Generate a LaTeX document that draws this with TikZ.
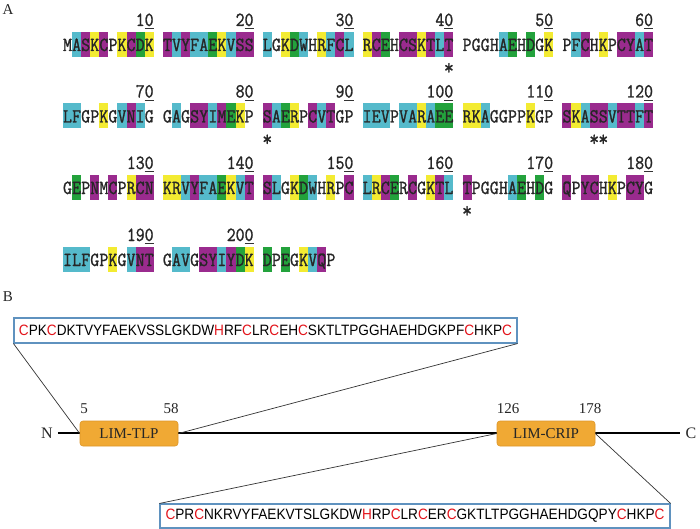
\documentclass[tikz,border=0pt]{standalone}
\usepackage{fontspec}
\setmainfont{Liberation Serif}
\newfontfamily\seqfont[FakeStretch=0.865,FakeBold=1.2]{Latin Modern Mono}
\newfontfamily\bseqfont{Liberation Sans}
\definecolor{colc}{HTML}{55BACB}
\definecolor{colm}{HTML}{9A2B8E}
\definecolor{coly}{HTML}{F3EB32}
\definecolor{colg}{HTML}{23A23C}
\definecolor{coln}{HTML}{FFFFFF}
\definecolor{seqred}{HTML}{E3141B}
\definecolor{boxblue}{HTML}{5F92BF}
\definecolor{limorange}{HTML}{F0A934}
\definecolor{limedge}{HTML}{DD9628}
\newcommand\rc[1]{\textcolor{seqred}{#1}}
\tikzset{
  seqchar/.style={inner sep=0pt, anchor=base, font=\seqfont\fontsize{20}{20}\selectfont, text=black!85},
  seqnum/.style={inner sep=0pt, anchor=base east, font=\seqfont\fontsize{20}{20}\selectfont, text=black!85},
  numline/.style={line width=0.8pt, black!80},
  starmark/.style={inner sep=0pt, anchor=base, font=\seqfont\fontsize{22}{22}\selectfont, text=black!85},
  seqbox/.style={draw=boxblue, line width=1.1pt, inner sep=0pt, fill=white},
  limbox/.style={fill=limorange, draw=limedge, line width=0.6pt, rounded corners=3pt, minimum width=98pt, minimum height=25pt, inner sep=0pt, font=\rmfamily\fontsize{15}{15}\selectfont, text=black!85},
  plainlabel/.style={inner sep=0pt, font=\rmfamily\fontsize{15}{15}\selectfont, text=black!85},
  link/.style={line width=0.7pt, black!80},
  axisline/.style={line width=2.8pt, black}
}
% #1 row id, #2 block index, #3 y centre, #4 list char/colour
\newcommand\seqblock[4]{%
  \pgfmathsetmacro\bx{63+#2*11*9.08}%
  \foreach \ch/\cl [count=\i from 0] in {#4} {
    \pgfmathsetmacro\cx{\bx+\i*9.08}
    \fill[col\cl] (\cx,#3-12.5) rectangle ++(9.08,25);
  }
  \foreach \ch/\cl [count=\i from 0] in {#4} {
    \pgfmathsetmacro\cx{\bx+\i*9.08+4.54}
    \node[seqchar] (s#1b#2c\i) at (\cx,#3+6.5) {\ch};
  }
}
% #1 row id, #2 block index, #3 y centre of row, #4 number
\newcommand\seqnumber[4]{%
  \pgfmathsetmacro\bx{63+#2*11*9.08}%
  \node[seqnum] (n#1b#2) at (\bx+90.8,#3-18.5) {#4};
  \draw[numline] (\bx+81.7,#3-16) -- (\bx+90.8,#3-16);
}
\begin{document}
\begin{tikzpicture}[x=1pt,y=-1pt]
\useasboundingbox[fill=white] (0,0) rectangle (700,529);
\node[plainlabel] (labA) at (8,10) {A};
% ---- row 1
\seqblock{1}{0}{44.5}{M/n,A/c,S/m,K/y,C/m,P/n,K/y,C/m,D/g,K/y}
\seqblock{1}{1}{44.5}{T/m,V/c,Y/m,F/c,A/c,E/g,K/y,V/c,S/m,S/m}
\seqblock{1}{2}{44.5}{L/c,G/n,K/y,D/g,W/c,H/n,R/y,F/c,C/m,L/c}
\seqblock{1}{3}{44.5}{R/y,C/m,E/g,H/n,C/m,S/m,K/y,T/m,L/c,T/m}
\seqblock{1}{4}{44.5}{P/n,G/n,G/n,H/n,A/c,E/g,H/n,D/g,G/n,K/y}
\seqblock{1}{5}{44.5}{P/n,F/c,C/m,H/n,K/y,P/n,C/m,Y/m,A/c,T/m}
\seqnumber{1}{0}{44.5}{10}\seqnumber{1}{1}{44.5}{20}\seqnumber{1}{2}{44.5}{30}
\seqnumber{1}{3}{44.5}{40}\seqnumber{1}{4}{44.5}{50}\seqnumber{1}{5}{44.5}{60}
% ---- row 2
\seqblock{2}{0}{116}{L/c,F/c,G/n,P/n,K/y,G/n,V/c,N/m,I/c,G/n}
\seqblock{2}{1}{116}{G/n,A/c,G/n,S/m,Y/m,I/c,M/m,E/g,K/y,P/n}
\seqblock{2}{2}{116}{S/m,A/c,E/g,R/y,P/n,C/m,V/c,T/m,G/n,P/n}
\seqblock{2}{3}{116}{I/c,E/c,V/c,P/n,V/c,A/c,R/y,A/c,E/g,E/g}
\seqblock{2}{4}{116}{R/y,K/y,A/c,G/n,G/n,P/n,P/n,K/y,G/n,P/n}
\seqblock{2}{5}{116}{S/m,K/y,A/c,S/m,S/m,V/c,T/m,T/m,F/c,T/m}
\seqnumber{2}{0}{116}{70}\seqnumber{2}{1}{116}{80}\seqnumber{2}{2}{116}{90}
\seqnumber{2}{3}{116}{100}\seqnumber{2}{4}{116}{110}\seqnumber{2}{5}{116}{120}
% ---- row 3
\seqblock{3}{0}{187.5}{G/n,E/g,P/n,N/m,M/n,C/m,P/n,R/y,C/m,N/m}
\seqblock{3}{1}{187.5}{K/y,R/y,V/c,Y/m,F/c,A/c,E/g,K/y,V/c,T/m}
\seqblock{3}{2}{187.5}{S/m,L/c,G/n,K/y,D/g,W/c,H/n,R/y,P/n,C/m}
\seqblock{3}{3}{187.5}{L/c,R/y,C/m,E/g,R/n,C/m,G/n,K/y,T/m,L/c}
\seqblock{3}{4}{187.5}{T/m,P/n,G/n,G/n,H/n,A/c,E/g,H/n,D/g,G/n}
\seqblock{3}{5}{187.5}{Q/m,P/n,Y/m,C/m,H/n,K/y,P/n,C/m,Y/m,G/n}
\seqnumber{3}{0}{187.5}{130}\seqnumber{3}{1}{187.5}{140}\seqnumber{3}{2}{187.5}{150}
\seqnumber{3}{3}{187.5}{160}\seqnumber{3}{4}{187.5}{170}\seqnumber{3}{5}{187.5}{180}
% ---- row 4
\seqblock{4}{0}{259.5}{I/c,L/c,F/c,G/n,P/n,K/y,G/n,V/c,N/m,T/m}
\seqblock{4}{1}{259.5}{G/n,A/c,V/c,G/n,S/m,Y/m,I/c,Y/m,D/g,K/y}
\seqblock{4}{2}{259.5}{D/g,P/n,E/g,G/n,K/y,V/c,Q/m,P/n}
\seqnumber{4}{0}{259.5}{190}\seqnumber{4}{1}{259.5}{200}
% ---- asterisks
\node[starmark] (st1) at (448.9,74.5) {*};
\node[starmark] (st2) at (267.3,146) {*};
\node[starmark] (st3) at (594.2,146) {*};
\node[starmark] (st4) at (603.3,146) {*};
\node[starmark] (st5) at (467.1,217.5) {*};
% ---- panel B
\node[plainlabel] (labB) at (8,297) {B};
\node[seqbox, minimum width=503pt, minimum height=25pt] (topbox) at (265.5,330.5)
  {\resizebox{493pt}{\height}{\bseqfont\fontsize{15}{15}\selectfont\rc{C}PK\rc{C}DKTVYFAEKVSSLGKDW\rc{H}RF\rc{C}LR\rc{C}EH\rc{C}SKTLTPGGHAEHDGKPF\rc{C}HKP\rc{C}}};
\node[seqbox, minimum width=510pt, minimum height=24pt] (botbox) at (415,516)
  {\resizebox{499pt}{\height}{\bseqfont\fontsize{15}{15}\selectfont\rc{C}PR\rc{C}NKRVYFAEKVTSLGKDW\rc{H}RP\rc{C}LR\rc{C}ER\rc{C}GKTLTPGGHAEHDGQPY\rc{C}HKP\rc{C}}};
\node[plainlabel, font=\rmfamily\fontsize{16}{16}\selectfont] (Nlab) at (47,433) {N};
\node[plainlabel, font=\rmfamily\fontsize{16}{16}\selectfont] (Clab) at (691,433) {C};
\draw[axisline] ([xshift=5pt]Nlab.east) -- ([xshift=-5pt]Clab.west);
\node[limbox] (tlp) at (129,433.5) {LIM-TLP};
\node[limbox] (crip) at (546,433.5) {LIM-CRIP};
\node[plainlabel] (p5) at (84,409) {5};
\node[plainlabel] (p58) at (171,409) {58};
\node[plainlabel] (p126) at (508,409) {126};
\node[plainlabel] (p178) at (590,409) {178};
\draw[link] (topbox.south west) -- (tlp.west);
\draw[link] (topbox.south east) -- (tlp.east);
\draw[link] (crip.west) -- (botbox.north west);
\draw[link] (crip.east) -- (botbox.north east);
\end{tikzpicture}
\end{document}
